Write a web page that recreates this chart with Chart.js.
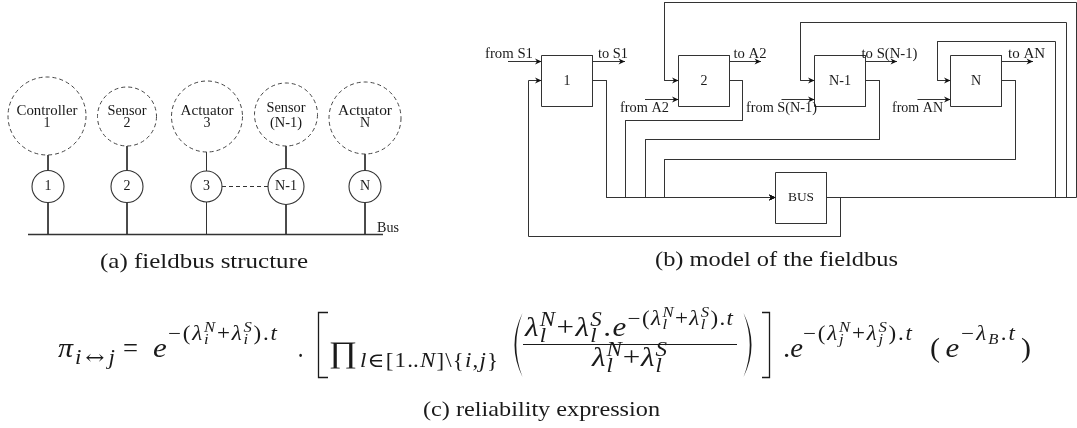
<!DOCTYPE html>
<html>
<head>
<meta charset="utf-8">
<script src="https://cdn.jsdelivr.net/npm/chart.js@4.4.0/dist/chart.umd.min.js"></script>
<style>
  html, body { margin: 0; padding: 0; background: #fff; }
  canvas { display: block; }
</style>
</head>
<body>
<canvas id="fig" width="1077" height="428" style="width:1077px;height:428px"></canvas>
<script>
// ---- diagram content ----
const deviceRoles = ["Controller", "Sensor", "Actuator", "Sensor", "Actuator"];
const deviceIds = ["1", "2", "3", "(N-1)", "N"];
const nodeIds = ["1", "2", "3", "N-1", "N"];
const stationIds = ["1", "2", "N-1", "N"];
const inputLabels = ["from S1", "from A2", "from S(N-1)", "from AN"];
const outputLabels = ["to S1", "to A2", "to S(N-1)", "to AN"];
const busLabel = "Bus";
const busModelLabel = "BUS";
const captions = ["(a) fieldbus structure", "(b) model of the fieldbus", "(c) reliability expression"];

// ---- layout (data units of the hidden scales) ----
const W = 1077, H = 428;
const LINE = "#333";
const INK = "#1a1a1a";
const FONT = '"Liberation Serif", "DejaVu Serif", serif';

// panel (a)
const nodeX = [48, 127, 206.5, 286, 365];
const nodeR = [16, 16, 15.5, 18, 16];
const nodeY = 186.5;
const devY = [116, 116.5, 116.5, 114.5, 118];
const devR = [39, 29.5, 35.5, 31.5, 36];
const devX = [47, 127, 207, 286, 365];
const roleY = [111, 111, 111, 108, 111];
const roleW = [61, 39, 53, 39, 54];
const busY = 234.5;

// panel (b)
const boxX = [541.5, 678.5, 814.5, 950.5];
const boxSize = 51;
const boxTop = 55.5;
const rowTop = 61.5, rowMid = 80.5, rowLow = 99.5, busLine = 197.5;
const busBox = [775.5, 172.5, 826.5, 223.5];
const inPos = [[509, 54, 48], [644.5, 108, 49], [781.5, 108, 71], [917.5, 108, 51]];
const outPos = [[613, 54, 30], [750, 54, 33], [889.5, 54, 56], [1026.5, 54, 37]];

const wires = [];
const arrows = [];
const wire = (pts, width = 1, color = LINE, arrow = false, dash) => {
  wires.push({
    type: "scatter", showLine: true,
    data: pts.map(([x, y]) => ({ x, y })),
    borderColor: color, borderWidth: width, borderDash: dash || [],
    pointRadius: 0, fill: false, tension: 0, order: 3
  });
  if (arrow) arrows.push(pts.slice(-2));
};

// (a) fieldbus structure
wire([[28, busY], [383, busY]], 1.5);
nodeX.forEach((x, i) => {
  wire([[x, nodeY + nodeR[i]], [x, busY]]);
  wire([[x, devY[i] + devR[i]], [x, nodeY - nodeR[i]]]);
});
wire([[nodeX[2] + nodeR[2], nodeY], [nodeX[3] - nodeR[3], nodeY]], 1, LINE, false, [4, 3]);

// (b) station boxes
boxX.forEach((x) => {
  const y = boxTop, s = boxSize;
  wire([[x, y], [x + s, y], [x + s, y + s], [x, y + s], [x, y]]);
});
{
  const [a, b, c, d] = busBox;
  wire([[a, b], [c, b], [c, d], [a, d], [a, b]]);
}
// inputs / outputs
wire([[508, rowTop], [boxX[0], rowTop]], 1, LINE, true);
wire([[645, rowLow], [boxX[1], rowLow]], 1, LINE, true);
wire([[781.5, rowLow], [boxX[2], rowLow]], 1, LINE, true);
wire([[917.5, rowLow], [boxX[3], rowLow]], 1, LINE, true);
const outEnd = [625, 761, 897, 1033];
boxX.forEach((x, i) => wire([[x + boxSize, rowTop], [outEnd[i], rowTop]], 1, LINE, true));
// stations -> bus
wire([[592.5, rowMid], [606.5, rowMid], [606.5, busLine], [busBox[0], busLine]], 1, LINE, true);
wire([[729.5, rowMid], [742.5, rowMid], [742.5, 120.5], [625.5, 120.5], [625.5, busLine], [busBox[0], busLine]], 1, LINE, true);
wire([[865.5, rowMid], [879.5, rowMid], [879.5, 139.5], [645.5, 139.5], [645.5, busLine], [busBox[0], busLine]], 1, LINE, true);
wire([[1001.5, rowMid], [1015.5, rowMid], [1015.5, 159.5], [664.5, 159.5], [664.5, busLine], [busBox[0], busLine]], 1, LINE, true);
// bus -> stations
wire([[826.5, busLine], [840.5, busLine], [840.5, 236.5], [528.5, 236.5], [528.5, rowMid], [boxX[0], rowMid]], 1, LINE, true);
wire([[826.5, busLine], [1076.5, busLine], [1076.5, 2.5], [664.5, 2.5], [664.5, rowMid], [boxX[1], rowMid]], 1, LINE, true);
wire([[826.5, busLine], [1066.5, busLine], [1066.5, 22.5], [800.5, 22.5], [800.5, rowMid], [boxX[2], rowMid]], 1, LINE, true);
wire([[826.5, busLine], [1055.5, busLine], [1055.5, 41.5], [937.5, 41.5], [937.5, rowMid], [boxX[3], rowMid]], 1, LINE, true);

// (c) reliability expression, laid out as token runs
const SIZES = [27, 20, 14.5];
const T = (t, lvl = 0, dy = 0, it = false, f) => ({ t, lvl, dy, it, f });
const I = (t, lvl = 0, dy = 0) => T(t, lvl, dy, true);
const ST = (sup, sub, lvl, dySup, dySub) => ({ sup, sub, lvl, dySup, dySub });
const SUP = [10, 8], SUB = [6, 4];
const lam = (lvl, dy, sup, sub) => [I("λ", lvl, dy), ST(sup, sub, lvl + 1, dy - SUP[lvl], dy + SUB[lvl])];
const expo = (lvl, dy, tag) => [
  T("−", lvl, dy), T("(", lvl, dy), ...lam(lvl, dy, "N", tag), T("+", lvl, dy),
  ...lam(lvl, dy, "S", tag), T(")", lvl, dy), T(".", lvl, dy), I("t", lvl, dy)
];
const formula = [
  { x0: 58, x1: 73, base: 357, toks: [I("π")] },
  { x0: 75, x1: 115, base: 357, toks: [I("i", 1, 7), T("↔", 1, 7, false, '"DejaVu Serif"'), I("j", 1, 7)] },
  { x0: 123, x1: 138, base: 357, toks: [T("=")] },
  { x0: 153, x1: 167, base: 357, toks: [I("e")] },
  { x0: 168, x1: 277, base: 357, toks: expo(1, -17, "i") },
  { x0: 298, x1: 303, base: 357, toks: [T(".")] },
  { x0: 328, x1: 358, base: 362, toks: [T("∏")] },
  { x0: 360, x1: 498, base: 357, toks: [I("l", 1, 10), T("∈", 1, 10), T("[", 1, 10), T("1", 1, 10), T("..", 1, 10), I("N", 1, 10), T("]", 1, 10), T("\\", 1, 10), T("{", 1, 10), I("i", 1, 10), T(",", 1, 10), I("j", 1, 10), T("}", 1, 10)] },
  { x0: 525, x1: 733, base: 336, toks: [...lam(0, 0, "N", "l"), T("+"), ...lam(0, 0, "S", "l"), T("."), I("e"), ...expo(1, -11, "l")] },
  { x0: 592, x1: 667, base: 366, toks: [...lam(0, 0, "N", "l"), T("+"), ...lam(0, 0, "S", "l")] },
  { x0: 783, x1: 803, base: 357, toks: [T("."), I("e")] },
  { x0: 803, x1: 912, base: 357, toks: expo(1, -17, "j") },
  { x0: 930, x1: 940, base: 357, toks: [T("(")] },
  { x0: 945, x1: 960, base: 357, toks: [I("e")] },
  { x0: 961, x1: 1015, base: 357, toks: [T("−", 1, -17), I("λ", 1, -17), I("B", 2, -13), T(".", 1, -17), I("t", 1, -17)] },
  { x0: 1021, x1: 1031, base: 357, toks: [T(")")] }
];

const ringPlugin = {
  id: "dashedRings",
  beforeDatasetDraw(chart, args) {
    const ds = chart.data.datasets[args.index];
    if (ds.ringDash) { chart.ctx.save(); chart.ctx.setLineDash(ds.ringDash); }
  },
  afterDatasetDraw(chart, args) {
    if (chart.data.datasets[args.index].ringDash) chart.ctx.restore();
  }
};

const overlayPlugin = {
  id: "overlay",
  afterDatasetsDraw(chart) {
    const ctx = chart.ctx;
    const sx = chart.scales.x, sy = chart.scales.y;
    const px = (v) => sx.getPixelForValue(v);
    const py = (v) => sy.getPixelForValue(v);
    const font = (size, it, fam) => `${it ? "italic " : ""}${size}px ${fam || FONT}`;

    const label = (text, x, y, size, w, align = "center") => {
      ctx.save();
      ctx.font = font(size, false);
      ctx.fillStyle = INK;
      ctx.textBaseline = "middle";
      const m = ctx.measureText(text).width;
      const k = w ? Math.min(1.3, Math.max(0.75, w / m)) : 1;
      const X = px(x), Y = py(y);
      ctx.translate(X, Y);
      ctx.scale(k, 1);
      ctx.textAlign = align;
      ctx.fillText(text, 0, 0);
      ctx.restore();
    };

    // arrowheads
    ctx.save();
    ctx.fillStyle = "#111";
    arrows.forEach(([[x0, y0], [x1, y1]]) => {
      const X = px(x1), Y = py(y1);
      const a = Math.atan2(py(y1) - py(y0), px(x1) - px(x0));
      ctx.save();
      ctx.translate(X, Y);
      ctx.rotate(a);
      ctx.beginPath();
      ctx.moveTo(0, 0);
      ctx.lineTo(-6.5, -3);
      ctx.lineTo(-4.5, 0);
      ctx.lineTo(-6.5, 3);
      ctx.closePath();
      ctx.fill();
      ctx.restore();
    });
    ctx.restore();

    // (a) labels
    deviceRoles.forEach((r, i) => label(r, devX[i], roleY[i], 14, roleW[i]));
    deviceIds.forEach((d, i) => label(d, devX[i], 123.5, 14, d.length > 1 ? 32 : 0));
    nodeIds.forEach((n, i) => label(n, nodeX[i], nodeY, 14, n.length > 1 ? 22 : 0));
    label(busLabel, 377, 228, 14, 22, "left");

    // (b) labels
    stationIds.forEach((s, i) => label(s, boxX[i] + boxSize / 2, boxTop + boxSize / 2, 14, s.length > 1 ? 22 : 0));
    label(busModelLabel, (busBox[0] + busBox[2]) / 2, (busBox[1] + busBox[3]) / 2, 12.5, 26);
    inputLabels.forEach((t, i) => label(t, inPos[i][0], inPos[i][1], 14, inPos[i][2]));
    outputLabels.forEach((t, i) => label(t, outPos[i][0], outPos[i][1], 14, outPos[i][2]));

    // captions
    label(captions[0], 204, 262, 21, 208);
    label(captions[1], 776.5, 260, 21, 243);
    label(captions[2], 541.5, 410, 21, 237);

    // formula runs
    ctx.fillStyle = INK;
    ctx.textBaseline = "alphabetic";
    ctx.textAlign = "left";
    const tokFont = (tk) => font(tk.t === "∏" ? 30 : SIZES[tk.lvl], tk.it, tk.f);
    formula.forEach((g) => {
      const items = g.toks.map((tk) => {
        let w;
        if (tk.sup !== undefined) {
          ctx.font = font(SIZES[tk.lvl], true);
          w = Math.max(ctx.measureText(tk.sup).width, ctx.measureText(tk.sub).width);
        } else {
          ctx.font = tokFont(tk);
          w = ctx.measureText(tk.t).width;
        }
        return { ...tk, w };
      });
      const natural = items.reduce((s, it) => s + it.w, 0);
      const target = g.x1 - g.x0;
      const k = Math.min(1.15, Math.max(0.85, target / natural));
      const gap = items.length > 1 ? (target - natural * k) / (items.length - 1) : (target - natural * k) / 2;
      let x = items.length > 1 ? g.x0 : g.x0 + gap;
      items.forEach((it) => {
        ctx.save();
        ctx.translate(px(x), 0);
        ctx.scale(k, 1);
        if (it.sup !== undefined) {
          ctx.font = font(SIZES[it.lvl], true);
          ctx.fillText(it.sup, 0, py(g.base + it.dySup));
          ctx.fillText(it.sub, 0, py(g.base + it.dySub));
        } else {
          ctx.font = tokFont(it);
          ctx.fillText(it.t, 0, py(g.base + it.dy));
        }
        ctx.restore();
        x += it.w * k + gap;
      });
    });

    // brackets, parentheses and fraction bar
    ctx.save();
    ctx.strokeStyle = INK;
    ctx.fillStyle = INK;
    ctx.lineWidth = 1.3;
    ctx.beginPath();
    ctx.moveTo(px(328), py(312.5)); ctx.lineTo(px(318.5), py(312.5));
    ctx.lineTo(px(318.5), py(377.5)); ctx.lineTo(px(328), py(377.5));
    ctx.moveTo(px(762), py(312.5)); ctx.lineTo(px(769.5), py(312.5));
    ctx.lineTo(px(769.5), py(377.5)); ctx.lineTo(px(762), py(377.5));
    ctx.stroke();
    ctx.lineWidth = 1;
    ctx.beginPath();
    ctx.moveTo(px(523), py(344.5)); ctx.lineTo(px(737), py(344.5));
    ctx.stroke();
    const paren = (xe, xb, dir) => {
      ctx.beginPath();
      ctx.moveTo(px(xe), py(313));
      ctx.quadraticCurveTo(px(xb - dir * 1.5), py(345), px(xe), py(377));
      ctx.quadraticCurveTo(px(xb + dir * 2), py(345), px(xe), py(313));
      ctx.fill();
    };
    paren(522.5, 508, 1);
    paren(743.5, 758, -1);
    ctx.restore();
  }
};

const rings = {
  type: "scatter",
  data: devX.map((x, i) => ({ x, y: devY[i] })),
  pointRadius: devR, pointHoverRadius: devR,
  pointStyle: "circle",
  backgroundColor: "rgba(0,0,0,0)", borderColor: "#444", borderWidth: 1,
  ringDash: [4, 3], order: 2
};
const nodes = {
  type: "scatter",
  data: nodeX.map((x) => ({ x, y: nodeY })),
  pointRadius: nodeR, pointHoverRadius: nodeR,
  pointStyle: "circle",
  backgroundColor: "#fff", borderColor: LINE, borderWidth: 1.1, order: 1
};

new Chart(document.getElementById("fig").getContext("2d"), {
  type: "scatter",
  data: { datasets: [nodes, rings, ...wires] },
  options: {
    responsive: false,
    animation: false,
    events: [],
    layout: { padding: 0, autoPadding: false },
    plugins: { legend: { display: false }, tooltip: { enabled: false } },
    scales: {
      x: { type: "linear", min: 0, max: W, display: false },
      y: { type: "linear", min: 0, max: H, reverse: true, display: false }
    }
  },
  plugins: [ringPlugin, overlayPlugin]
});
</script>
</body>
</html>
